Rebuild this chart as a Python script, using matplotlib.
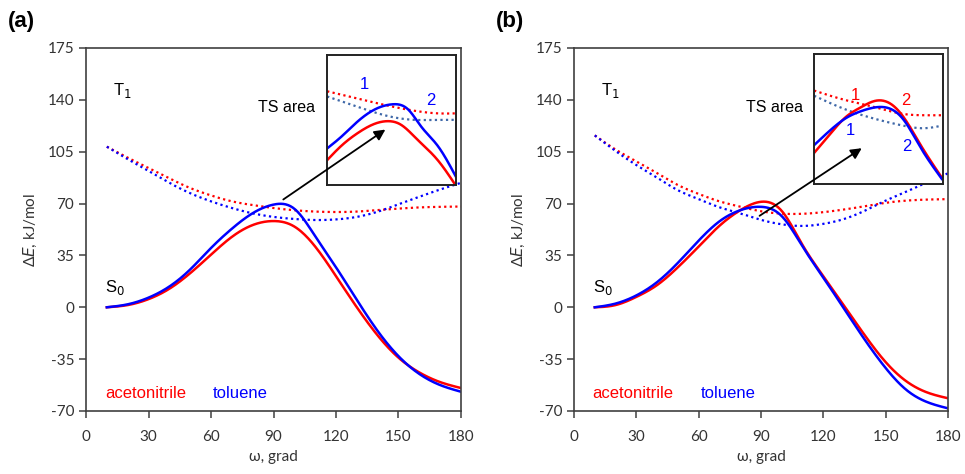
import numpy as np
import matplotlib.pyplot as plt

plt.rcParams['font.family'] = ['Liberation Sans', 'DejaVu Sans']
plt.rcParams['axes.unicode_minus'] = False

w = [10, 20, 30, 40, 50, 60, 70, 80, 90, 100, 110, 120, 130, 140, 150, 160, 170, 180]

# ---- panel (a) ----
a_s0_acn = [0, 1.5, 5.5, 12.5, 23, 35.5, 47.5, 55.5, 58.2, 54.5, 41, 21, 0, -19, -34, -44, -50.5, -54.5]
a_s0_tol = [0, 2, 6.5, 14, 25.5, 40, 53, 63.5, 69.3, 66.5, 48, 27, 5, -16, -33, -45, -52.5, -57]
a_t1_acn = [108.4, 101, 94, 87, 80.5, 75.5, 71.5, 69, 67, 65.5, 64.6, 64.3, 64.6, 65.6, 66.6, 67.4, 67.8, 68]
a_t1_tol = [108.4, 100, 92, 84, 77, 71.5, 67, 63.4, 61, 59.6, 58.9, 59.3, 61, 64.5, 69.5, 74.6, 79.5, 84]

# ---- panel (b) ----
b_s0_acn = [0, 1.5, 7, 15, 27, 41, 55, 65.5, 71.2, 65, 42, 21, 1, -19, -37, -50, -57.5, -61.4]
b_s0_tol = [0, 2.5, 8, 17, 30, 45, 58, 65.5, 67.8, 61.5, 41, 20, -1, -22, -41, -55.8, -64, -68.2]
b_t1_acn = [116, 106.5, 98.5, 90.5, 82.5, 76.5, 71.5, 67.9, 64.8, 63.2, 63.1, 64.2, 66, 68.2, 70.5, 72, 72.7, 73]
b_t1_tol = [116, 105.5, 96, 87.5, 79, 73, 67.5, 63.4, 59, 56, 54.9, 56.3, 59.6, 65.2, 72, 78, 84.5, 90.4]

# ---- insets (TS area, box coordinates) ----
ia_x_blue = [0, 0.11, 0.24, 0.37, 0.51, 0.63, 0.73, 0.86, 1.0]
ia_blue = [0.28, 0.37, 0.49, 0.58, 0.62, 0.58, 0.45, 0.30, 0.065]
ia_x_red = [0, 0.11, 0.24, 0.37, 0.47, 0.57, 0.70, 0.86, 0.99]
ia_red = [0.19, 0.30, 0.40, 0.47, 0.49, 0.465, 0.35, 0.19, 0.01]
ia_xd = [0, 0.21, 0.47, 0.68, 0.86, 1.0]
ia_red_d = [0.72, 0.67, 0.61, 0.57, 0.55, 0.55]
ia_blue_d = [0.68, 0.61, 0.53, 0.50, 0.50, 0.50]

ib_x = [0, 0.12, 0.25, 0.36, 0.47, 0.59, 0.69, 0.82, 0.99]
ib_blue = [0.30, 0.41, 0.51, 0.56, 0.59, 0.58, 0.50, 0.29, 0.04]
ib_red = [0.24, 0.38, 0.52, 0.59, 0.64, 0.62, 0.52, 0.31, 0.05]
ib_xd = [0, 0.23, 0.48, 0.69, 0.85, 0.99]
ib_red_d = [0.72, 0.65, 0.59, 0.54, 0.53, 0.53]
ib_blue_d = [0.68, 0.58, 0.50, 0.45, 0.43, 0.45]

RED = '#ff0000'
BLUE = '#0000ff'
GBLUE = '#3f68a8'
TICKC = '#404040'
xticks = [0, 30, 60, 90, 120, 150, 180]
yticks = [-70, -35, 0, 35, 70, 105, 140, 175]


def smooth(x, y, n=300):
    # natural cubic spline through the read-off points
    x = np.asarray(x, float)
    y = np.asarray(y, float)
    k = len(x)
    h = np.diff(x)
    A = np.zeros((k, k))
    r = np.zeros(k)
    A[0, 0] = A[-1, -1] = 1
    for i in range(1, k - 1):
        A[i, i - 1] = h[i - 1]
        A[i, i] = 2 * (h[i - 1] + h[i])
        A[i, i + 1] = h[i]
        r[i] = 6 * ((y[i + 1] - y[i]) / h[i] - (y[i] - y[i - 1]) / h[i - 1])
    M = np.linalg.solve(A, r)
    xs = np.linspace(x[0], x[-1], n)
    idx = np.clip(np.searchsorted(x, xs, side='right') - 1, 0, k - 2)
    x0, x1 = x[idx], x[idx + 1]
    hh = x1 - x0
    a = (x1 - xs) / hh
    b = (xs - x0) / hh
    ys = a * y[idx] + b * y[idx + 1] + ((a**3 - a) * M[idx] + (b**3 - b) * M[idx + 1]) * hh**2 / 6
    return xs, ys


fig = plt.figure(figsize=(9.65, 4.74), dpi=100)
axa = fig.add_axes([86/965, 1-411/474, 375/965, 363/474])
axb = fig.add_axes([574/965, 1-411/474, 374/965, 363/474])

panels = [
    (axa, a_s0_acn, a_s0_tol, a_t1_acn, a_t1_tol, '(a)', 8),
    (axb, b_s0_acn, b_s0_tol, b_t1_acn, b_t1_tol, '(b)', 496),
]

for ax, sa, st, ta, tt, lab, lx in panels:
    ax.plot(*smooth(w, ta), color=RED, lw=1.6, ls=(0, (1, 1.5)))
    ax.plot(*smooth(w, tt), color=BLUE, lw=1.6, ls=(0, (1, 1.5)))
    ax.plot(*smooth(w, sa), color=RED, lw=1.8)
    ax.plot(*smooth(w, st), color=BLUE, lw=1.8)
    ax.set_xlim(0, 180)
    ax.set_ylim(-70, 175)
    ax.set_xticks(xticks)
    ax.set_yticks(yticks)
    ax.tick_params(direction='out', length=5, width=1.1, colors=TICKC,
                   labelsize=11, labelcolor='#333333')
    for lbl in ax.get_xticklabels() + ax.get_yticklabels():
        lbl.set_family(['Lato', 'DejaVu Sans'])
    ax.tick_params(axis='x', pad=9)
    for s in ax.spines.values():
        s.set_color(TICKC)
        s.set_linewidth(1.2)
    ax.set_xlabel('ω, grad', fontsize=11, color='#333333', family=['Lato', 'DejaVu Sans'])
    ax.set_ylabel(r'Δ$\it{E}$, kJ/mol', fontsize=11, color='#333333', family=['Lato', 'DejaVu Sans'], labelpad=6)
    ax.text(13, 143, r'T$_1$', fontsize=12)
    ax.text(9, 10, r'S$_0$', fontsize=12)
    ax.text(110, 132, 'TS area', fontsize=11.5, ha='right')
    ax.text(9, -61, 'acetonitrile', fontsize=12, color=RED)
    ax.text(61, -61, 'toluene', fontsize=12, color=BLUE)
    fig.text(lx/965, 1-22/474, lab, fontsize=16, fontweight='bold', va='center')

axa.annotate('', xy=(144.8, 121), xytext=(93.6, 71.7), zorder=10,
             arrowprops=dict(arrowstyle='-|>', color='black', lw=1.3, mutation_scale=16))
axb.annotate('', xy=(139.6, 108.4), xytext=(88.2, 60.7), zorder=10,
             arrowprops=dict(arrowstyle='-|>', color='black', lw=1.3, mutation_scale=16))

# insets
ina = axa.inset_axes([0.643, 0.623, 0.343, 0.358])
inb = axb.inset_axes([0.642, 0.625, 0.345, 0.358])

ina.plot(*smooth(ia_xd, ia_red_d), color=RED, lw=1.6, ls=(0, (1, 1.5)))
ina.plot(*smooth(ia_xd, ia_blue_d), color=GBLUE, lw=1.6, ls=(0, (1, 1.5)))
ina.plot(*smooth(ia_x_red, ia_red), color=RED, lw=1.8)
ina.plot(*smooth(ia_x_blue, ia_blue), color=BLUE, lw=1.8)
ina.text(0.29, 0.77, '1', color=BLUE, fontsize=12, ha='center', va='center')
ina.text(0.81, 0.65, '2', color=BLUE, fontsize=12, ha='center', va='center')

inb.plot(*smooth(ib_xd, ib_red_d), color=RED, lw=1.6, ls=(0, (1, 1.5)))
inb.plot(*smooth(ib_xd, ib_blue_d), color=GBLUE, lw=1.6, ls=(0, (1, 1.5)))
inb.plot(*smooth(ib_x, ib_red), color=RED, lw=1.8)
inb.plot(*smooth(ib_x, ib_blue), color=BLUE, lw=1.8)
inb.text(0.32, 0.68, '1', color=RED, fontsize=12, ha='center', va='center')
inb.text(0.71, 0.64, '2', color=RED, fontsize=12, ha='center', va='center')
inb.text(0.28, 0.41, '1', color=BLUE, fontsize=12, ha='center', va='center')
inb.text(0.72, 0.29, '2', color=BLUE, fontsize=12, ha='center', va='center')

for ins in (ina, inb):
    ins.set_xlim(0, 1)
    ins.set_ylim(0, 1)
    ins.set_xticks([])
    ins.set_yticks([])
    for s in ins.spines.values():
        s.set_color('#222222')
        s.set_linewidth(1.4)

fig.savefig('out.png', dpi=100)
